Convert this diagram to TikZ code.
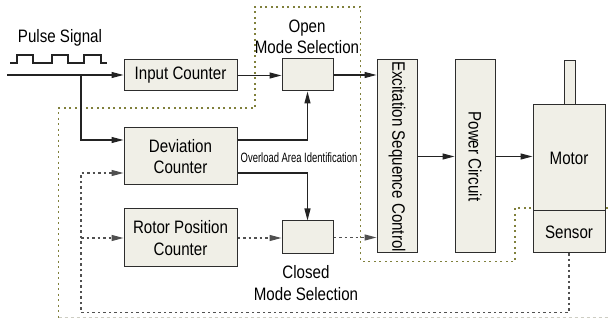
\documentclass[tikz,border=0pt]{standalone}
\usepackage{fontspec}
\usepackage{graphicx}
\setmainfont{Liberation Sans}[FakeStretch=0.84]
\newfontfamily\narrowfont{Liberation Sans}[FakeStretch=0.70]
\usetikzlibrary{arrows.meta,calc}

\definecolor{boxfill}{RGB}{240,239,231}
\definecolor{boxline}{RGB}{45,45,45}
\definecolor{wire}{RGB}{35,35,35}
\definecolor{fbgray}{RGB}{80,80,80}
\definecolor{olivezone}{RGB}{128,128,60}
\definecolor{zonefaint}{RGB}{205,205,195}

\tikzset{
  blk/.style={draw=boxline, fill=boxfill, line width=1pt, inner sep=0pt, align=center},
  txt/.style={inner sep=0pt, align=center},
  sig/.style={draw=wire, line width=1.1pt},
  sigarrow/.style={sig, -{Triangle[length=12pt,width=6pt]}},
  fbline/.style={draw=fbgray, line width=1.3pt, dash pattern=on 2.5pt off 3pt},
  fbarrow/.style={fbline, -{Triangle[length=12pt,width=6pt]}},
  zone/.style={draw=olivezone, line width=1.4pt, dash pattern=on 2pt off 3.5pt},
}

\begin{document}
\begin{tikzpicture}[x=1pt,y=-1pt,font=\fontsize{18pt}{21.5pt}\selectfont]
\useasboundingbox (0,0) rectangle (608,320);

% open/closed loop boundary
\draw[zone] (608,208) -- (515,208) -- (515,261.5) -- (360.5,261.5) -- (360.5,7)
  -- (255,7) -- (255,108) -- (58.7,108) -- (58.7,320);
\draw[draw=zonefaint, line width=1.2pt, dash pattern=on 3pt off 3pt] (58.7,317.5) -- (608,317.5);

% pulse waveform
\node[txt, anchor=base] (pulselbl) at (60,43) {Pulse Signal};
\draw[wire, line width=1.2pt] (10,63) -- (17,63) -- (17,55) -- (33,55) -- (33,63) -- (52,63)
  -- (52,55) -- (68,55) -- (68,63) -- (84,63) -- (84,55) -- (101,55) -- (101,63) -- (107,63);

% blocks
\node[blk, minimum width=113pt, minimum height=31pt] (ic) at (180.5,75.5) {Input Counter};
\node[blk, minimum width=51pt, minimum height=32pt] (om) at (307.5,75) {};
\node[txt] (omlbl) at (307,37) {Open\\Mode Selection};
\node[blk, minimum width=113pt, minimum height=57pt] (dc) at (180.5,156.5) {Deviation\\Counter};
\node[blk, minimum width=113pt, minimum height=58pt] (rp) at (180.5,238) {Rotor Position\\Counter};
\node[blk, minimum width=51pt, minimum height=33pt] (cm) at (307.5,237.5) {};
\node[txt] (cmlbl) at (306,283) {Closed\\Mode Selection};
\node[blk, minimum width=40pt, minimum height=193pt] (ex) at (397,156.5)
  {\rotatebox{-90}{Excitation Sequence Control}};
\node[blk, minimum width=40pt, minimum height=193pt] (pc) at (475,156.5)
  {\rotatebox{-90}{Power Circuit}};
\node[blk, minimum width=11pt, minimum height=44pt] (shaft) at (569.5,83) {};
\node[blk, minimum width=72pt, minimum height=106pt] (motor) at (569,158) {Motor};
\node[blk, minimum width=72pt, minimum height=42pt] (sensor) at (569,232) {Sensor};
\node[txt, font=\narrowfont\fontsize{13.5pt}{15pt}\selectfont] (ovl) at (299,157.5)
  {Overload Area Identification};

% signal paths
\coordinate (pin) at (7,75);
\coordinate (br) at (81,75);
\draw[sigarrow] (pin) -- (pin -| ic.west);
\draw[sigarrow] (br) |- ([yshift=16.5pt]dc.west);
\draw[sigarrow] (ic.east) -- (ic.east -| om.west);
\draw[sigarrow] (om.east) -- (om.east -| ex.west);
\draw[sigarrow] ([yshift=16.5pt]dc.east) -| (om.south);
\draw[sigarrow] ([yshift=-16.5pt]dc.east) -| (cm.north);
\draw[sigarrow] (ex.east) -- (ex.east -| pc.west);
\draw[sigarrow] (pc.east) -- (pc.east -| motor.west);

% closed-loop (dotted) paths
\draw[fbarrow] (rp.east) -- (rp.east -| cm.west);
\draw[fbarrow] (cm.east) -- (cm.east -| ex.west);
\coordinate (fbl) at (81,312.7);
\draw[fbarrow] (sensor.south) |- (fbl) |- ([yshift=-16.5pt]dc.west);
\draw[fbarrow] (fbl |- rp.west) -- (rp.west);
\end{tikzpicture}
\end{document}
